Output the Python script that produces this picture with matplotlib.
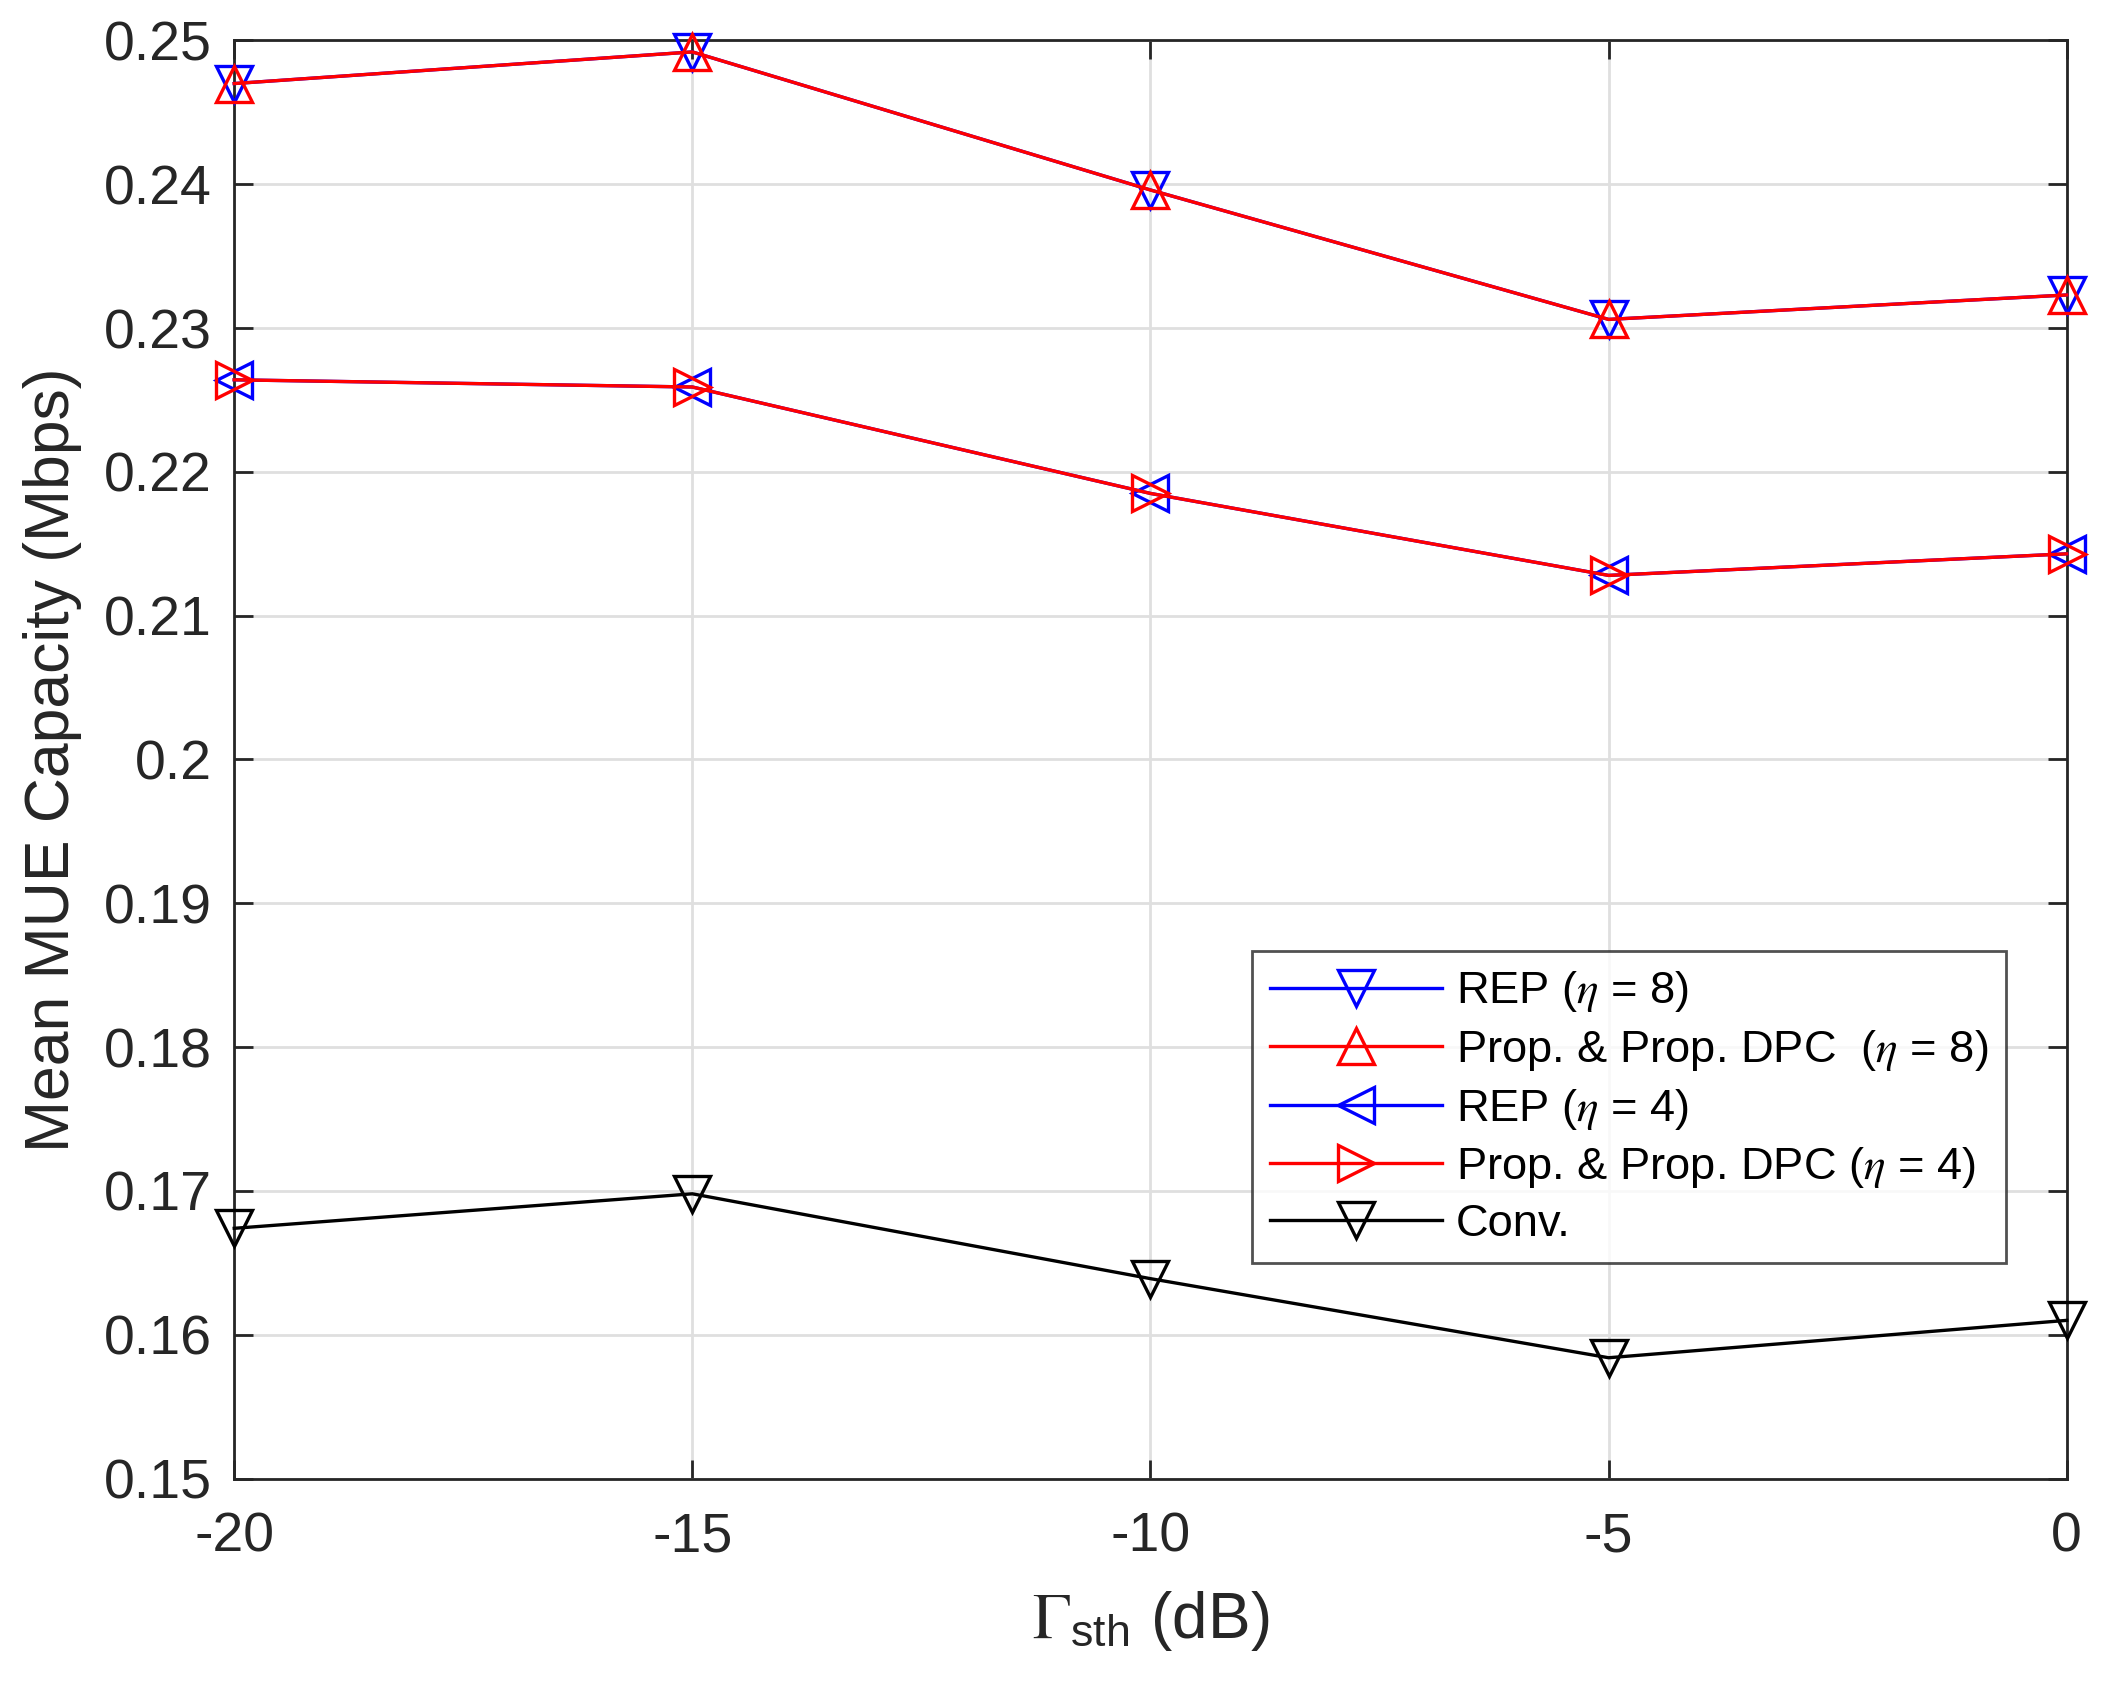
import matplotlib
matplotlib.use('Agg')
import matplotlib.pyplot as plt
import numpy as np

plt.rcParams['font.family'] = ['Liberation Sans', 'DejaVu Sans']
plt.rcParams['mathtext.fontset'] = 'stix'
plt.rcParams['axes.unicode_minus'] = False

# data
gamma_sth = [-20, -15, -10, -5, 0]
rep_eta8 = [0.2470, 0.2492, 0.2396, 0.2306, 0.2323]
prop_eta8 = [0.2470, 0.2492, 0.2396, 0.2306, 0.2323]
rep_eta4 = [0.2264, 0.2259, 0.2185, 0.2128, 0.2143]
prop_eta4 = [0.2264, 0.2259, 0.2185, 0.2128, 0.2143]
conv = [0.1674, 0.1698, 0.1639, 0.1584, 0.1610]

labels = [r'REP ($\eta$ = 8)', r'Prop. & Prop. DPC  ($\eta$ = 8)',
          r'REP ($\eta$ = 4)', r'Prop. & Prop. DPC ($\eta$ = 4)', 'Conv.']

fig = plt.figure(figsize=(10.55, 8.42), dpi=200)
ax = fig.add_axes([0.111, 0.122, 0.8685, 0.854])

series = [rep_eta8, prop_eta8, rep_eta4, prop_eta4, conv]
markers = ['v', '^', '<', '>', 'v']
colors = ['#0000ff', '#ff0000', '#0000ff', '#ff0000', '#000000']

for ys, m, c, lab in zip(series, markers, colors, labels):
    ax.plot(gamma_sth, ys, marker=m, color=c, label=lab, linewidth=1.2,
            markersize=13, markerfacecolor='none', markeredgewidth=1.2,
            clip_on=False, zorder=3)

ax.set_xlim(-20, 0)
ax.set_ylim(0.15, 0.25)
ax.set_xticks(gamma_sth)
ax.set_yticks(np.arange(0.15, 0.2501, 0.01))
ax.set_yticklabels(['0.15', '0.16', '0.17', '0.18', '0.19', '0.2',
                    '0.21', '0.22', '0.23', '0.24', '0.25'])
ax.grid(True, color='#dfdfdf', linewidth=1.0)
ax.set_axisbelow(True)
ax.tick_params(direction='in', length=7, width=1.0, top=True, right=True,
               labelsize=20, colors='#262626')
ax.tick_params(axis='x', pad=12)
ax.tick_params(axis='y', pad=8)
for sp in ax.spines.values():
    sp.set_color('#262626')
    sp.set_linewidth(1.0)

ax.set_xlabel(r'$\Gamma_{\mathregular{sth}}$ (dB)', fontsize=23, color='#262626', labelpad=9)
ax.set_ylabel('Mean MUE Capacity (Mbps)', fontsize=22.5, color='#262626', labelpad=8)

leg = ax.legend(loc='lower left', bbox_to_anchor=(0.5555, 0.150), fontsize=16.3,
                handlelength=3.8, frameon=True, fancybox=False, borderpad=0.4,
                labelspacing=0.3, handletextpad=0.3, borderaxespad=0)
leg.get_frame().set_edgecolor('#262626')
leg.get_frame().set_linewidth(1.0)

fig.savefig('out.png')
